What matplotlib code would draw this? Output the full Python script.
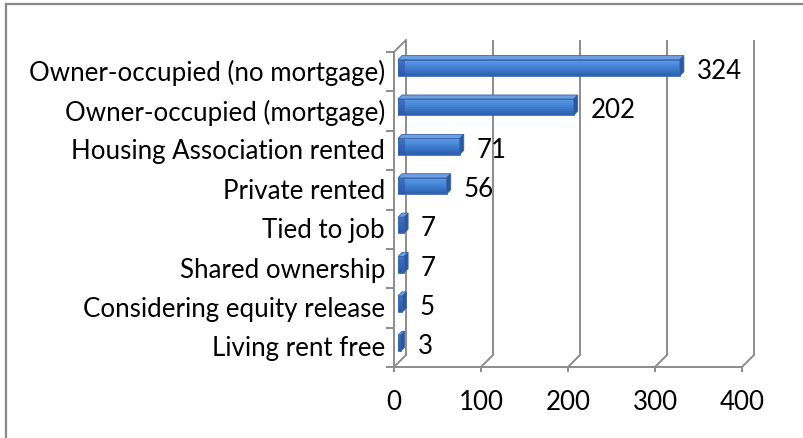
import matplotlib
matplotlib.use("Agg")
import matplotlib.pyplot as plt
from matplotlib.transforms import ScaledTranslation
from matplotlib.patches import Polygon
from matplotlib.colors import to_rgb
import numpy as np

categories = ["Owner-occupied (no mortgage)", "Owner-occupied (mortgage)",
              "Housing Association rented", "Private rented", "Tied to job",
              "Shared ownership", "Considering equity release", "Living rent free"]
values = [324, 202, 71, 56, 7, 7, 5, 3]
xticks = [0, 100, 200, 300, 400]

plt.rcParams['font.family'] = ['Lato', 'DejaVu Sans']

W, H, DPI = 804, 439, 100
fig = plt.figure(figsize=(W / DPI, H / DPI), dpi=DPI)

# front plane of plot area in pixels
x0, x1 = 394, 742
ytop, ybot = 53, 368
ax = fig.add_axes([x0 / W, (H - ybot) / H, (x1 - x0) / W, (ybot - ytop) / H])
n = len(categories)
ax.set_xlim(0, 400)
ax.set_ylim(n - 0.5, -0.5)
ax.patch.set_alpha(0)

grid_c = "#8c8c8c"
lw = 1.4
DEPTH = 12  # px depth of the 3D box
FS = 18.6


def off(px_x, px_y):
    return ax.transData + ScaledTranslation(px_x / DPI, px_y / DPI, fig.dpi_scale_trans)


for s in ["top", "right"]:
    ax.spines[s].set_visible(False)
for s in ["left", "bottom"]:
    ax.spines[s].set_color(grid_c)
    ax.spines[s].set_linewidth(lw)

ax.set_xticks(xticks)
ax.set_xticklabels([str(t) for t in xticks])
ax.tick_params(axis="x", direction="out", length=3.6, width=lw, color=grid_c,
               pad=12.5, labelsize=FS, labelcolor="black")
ax.set_yticks(range(n))
ax.set_yticklabels(categories)
ax.tick_params(axis="y", which="major", length=0, pad=6.5, labelsize=FS)
for lab in ax.get_yticklabels():
    lab.set_transform(lab.get_transform() + ScaledTranslation(0, 2 / DPI, fig.dpi_scale_trans))
ax.set_yticks(np.arange(-0.5, n), minor=True)
ax.tick_params(axis="y", which="minor", direction="out", length=5.5, width=lw, color=grid_c)

# back wall gridlines
back = off(DEPTH, DEPTH)
for v in xticks:
    ax.plot([v, v], [n - 0.5, -0.5], color=grid_c, lw=lw, transform=back, clip_on=False,
            solid_capstyle="butt", zorder=1)


def disp(x, y):
    return ax.transData.transform((x, y))


segs = [(v, n - 0.5) for v in xticks] + [(0, -0.5)]
for (xv, yv) in segs:
    p = disp(xv, yv)
    fig.add_artist(plt.Line2D([p[0], p[0] + DEPTH], [p[1], p[1] + DEPTH], color=grid_c,
                              lw=lw, transform=None, zorder=1))

# 3D bars
BAR_OFF = 4   # front face offset into depth
BAR_D = 4     # bar depth
BAR_H = 0.41
top_c = "#6f9fe0"
side_c = "#2c5898"
edge_c = "#3565ad"
grad_top = np.array(to_rgb("#5a97e4"))
grad_mid = np.array(to_rgb("#3f7fd2"))
grad_bot = np.array(to_rgb("#2f62b2"))
dark_end = "#30509e"
NS = 8
for i, v in enumerate(values):
    p_bl = disp(0, i + BAR_H / 2) + BAR_OFF
    p_tr = disp(v, i - BAR_H / 2) + BAR_OFF
    xl, yb = p_bl
    xr, yt = p_tr
    for k in range(NS):
        t = k / (NS - 1)
        c = grad_top * (1 - 2 * t) + grad_mid * 2 * t if t < 0.5 else grad_mid * (2 - 2 * t) + grad_bot * (2 * t - 1)
        ya = yt - (yt - yb) * k / NS
        yb2 = yt - (yt - yb) * (k + 1) / NS
        fig.add_artist(Polygon([[xl, yb2], [xr, yb2], [xr, ya], [xl, ya]], closed=True,
                               facecolor=c, edgecolor="none", transform=None, zorder=3))
    wend = min(7, xr - xl)
    fig.add_artist(Polygon([[xl, yb], [xl + wend, yb], [xl + wend, yt], [xl, yt]], closed=True,
                           facecolor=dark_end, edgecolor="none", alpha=0.55,
                           transform=None, zorder=3))
    fig.add_artist(Polygon([[xl, yb], [xr, yb], [xr, yt], [xl, yt]], closed=True,
                           facecolor="none", edgecolor=edge_c, lw=0.6, transform=None, zorder=3))
    top = Polygon([[xl, yt], [xr, yt], [xr + BAR_D, yt + BAR_D], [xl + BAR_D, yt + BAR_D]],
                  closed=True, facecolor=top_c, edgecolor=edge_c, lw=0.6, transform=None, zorder=3)
    side = Polygon([[xr, yb], [xr + BAR_D, yb + BAR_D], [xr + BAR_D, yt + BAR_D], [xr, yt]],
                   closed=True, facecolor=side_c, edgecolor=edge_c, lw=0.6, transform=None, zorder=3)
    fig.add_artist(top)
    fig.add_artist(side)
    ax.annotate(str(v), xy=(v, i), xytext=(15, 1), textcoords="offset points",
                ha="left", va="center", fontsize=FS, color="black", annotation_clip=False)

# outer chart border (only top and left visible)
fig.add_artist(plt.Line2D([6.5 / W, 6.5 / W], [0, 1 - 5 / H], color="#888888", lw=1.6,
                          transform=fig.transFigure))
fig.add_artist(plt.Line2D([6.5 / W, 1], [1 - 5 / H, 1 - 5 / H], color="#888888", lw=1.6,
                          transform=fig.transFigure))

fig.savefig("out.png", dpi=DPI)
